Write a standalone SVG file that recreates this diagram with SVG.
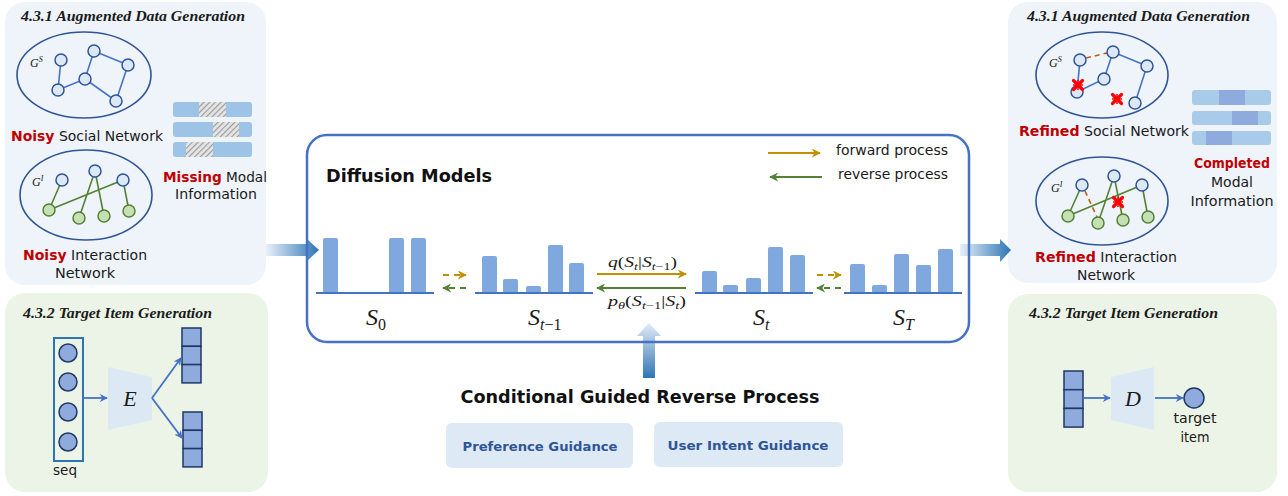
<svg xmlns="http://www.w3.org/2000/svg" xmlns:xlink="http://www.w3.org/1999/xlink" width="1288" height="496" viewBox="0 0 1288 496">
<defs>
<style>
.ttl{font-family:"Liberation Serif",serif;font-weight:bold;font-style:italic;font-size:15px;fill:#1a1a1a}
.cm{font-family:"DejaVu Sans","Open Sans",sans-serif;font-size:14px;fill:#1a1a1a}
.red{fill:#c00000;font-weight:bold}
.bold{font-weight:bold}
.math{font-family:"Liberation Serif",serif;font-style:italic;fill:#1a1a1a}
.up{font-style:normal}
.node{fill:#dde8f5;stroke:#2f5597;stroke-width:1.5}
.gnode{fill:#c5e0b4;stroke:#548235;stroke-width:1.5}
.be{stroke:#4472c4;stroke-width:1.6;fill:none}
.ge{stroke:#548235;stroke-width:1.6;fill:none}
.oe{stroke:#c55a11;stroke-width:1.6;fill:none;stroke-dasharray:5,4}
.ell{fill:none;stroke:#2f5597;stroke-width:1.6}
.bar{fill:#7fa8de}
.base{stroke:#4472c4;stroke-width:2}
.cell{fill:#8faadc;stroke:#1f3864;stroke-width:1.5}
.mbar{fill:#9dc3e6}
.cbar{fill:#a9cbea}
.cdark{fill:#8faadc}
.blue-arrow{stroke:#4472c4;stroke-width:1.8;fill:none}
.orange{stroke:#bf9000;stroke-width:2;fill:none}
.green{stroke:#548235;stroke-width:2;fill:none}
.trap{fill:#dce9f5}
.gbox{fill:#dde9f5}
.gtxt{font-family:"DejaVu Sans","Open Sans",sans-serif;font-weight:bold;font-size:13px;fill:#2f5597}
</style>
<pattern id="hatch" patternUnits="userSpaceOnUse" width="4" height="4" patternTransform="rotate(45)">
<rect width="4" height="4" fill="#e4e4e4"/>
<line x1="0" y1="0" x2="0" y2="4" stroke="#9a9a9a" stroke-width="2.2"/>
</pattern>
<linearGradient id="gh" x1="0" y1="0" x2="1" y2="0">
<stop offset="0" stop-color="#e8f0f9"/>
<stop offset="1" stop-color="#2e75b6"/>
</linearGradient>
<linearGradient id="gv" x1="0" y1="1" x2="0" y2="0">
<stop offset="0" stop-color="#2e75b6"/>
<stop offset="1" stop-color="#e3ecf7"/>
</linearGradient>
<marker id="mb" viewBox="0 0 10 10" refX="9" refY="5" markerWidth="8" markerHeight="8" markerUnits="userSpaceOnUse" orient="auto">
<path d="M0,0 L10,5 L0,10 L3,5 z" fill="#4472c4"/>
</marker>
<marker id="mo" viewBox="0 0 10 10" refX="9" refY="5" markerWidth="9" markerHeight="9" markerUnits="userSpaceOnUse" orient="auto">
<path d="M0,0 L10,5 L0,10 L3,5 z" fill="#bf9000"/>
</marker>
<marker id="mg" viewBox="0 0 10 10" refX="9" refY="5" markerWidth="9" markerHeight="9" markerUnits="userSpaceOnUse" orient="auto">
<path d="M0,0 L10,5 L0,10 L3,5 z" fill="#548235"/>
</marker>
<g id="xmark">
<path d="M-4.5,-4.5 L4.5,4.5 M-4.5,4.5 L4.5,-4.5" stroke="#ff0000" stroke-width="3.2" stroke-linecap="round"/>
<path d="M0,-5 L0,5 M-5,0 L5,0" stroke="#ff0000" stroke-width="1.5"/>
</g>
</defs>

<rect width="1288" height="496" fill="#ffffff"/>

<!-- Left top panel -->
<g id="left-augmented">
<rect x="5" y="2" width="261" height="283" rx="20" fill="#eef4fa"/>
<text class="ttl" x="21" y="21" textLength="224" lengthAdjust="spacingAndGlyphs">4.3.1 Augmented Data Generation</text>
<ellipse class="ell" cx="84" cy="75" rx="67" ry="43"/>
<path class="be" d="M61,60 L58,90 L85,79 L94,51 L128,65 L116,101 L85,79"/>
<circle class="node" cx="61" cy="60" r="6"/>
<circle class="node" cx="94" cy="51" r="6"/>
<circle class="node" cx="128" cy="65" r="6"/>
<circle class="node" cx="85" cy="79" r="6"/>
<circle class="node" cx="58" cy="90" r="6"/>
<circle class="node" cx="116" cy="101" r="6"/>
<text class="math" x="30" y="67" font-size="12">G<tspan font-size="8" dy="-5">S</tspan></text>
<text class="cm" x="11" y="141" textLength="152" lengthAdjust="spacingAndGlyphs"><tspan class="red">Noisy</tspan> Social Network</text>
<ellipse class="ell" cx="86" cy="195" rx="66" ry="45"/>
<path class="ge" d="M62,180 L49,210 M95,171 L79,218 M95,171 L104,216 M123,180 L129,211 M49,210 L123,180"/>
<circle class="node" cx="62" cy="180" r="6"/>
<circle class="node" cx="95" cy="171" r="6"/>
<circle class="node" cx="123" cy="180" r="6"/>
<circle class="gnode" cx="49" cy="210" r="6"/>
<circle class="gnode" cx="79" cy="218" r="6"/>
<circle class="gnode" cx="104" cy="216" r="6"/>
<circle class="gnode" cx="129" cy="211" r="6"/>
<text class="math" x="32" y="186" font-size="12">G<tspan font-size="8" dy="-5">I</tspan></text>
<text class="cm" x="23" y="260" textLength="124" lengthAdjust="spacingAndGlyphs"><tspan class="red">Noisy</tspan> Interaction</text>
<text class="cm" x="85" y="278" text-anchor="middle" textLength="60" lengthAdjust="spacingAndGlyphs">Network</text>
<rect class="mbar" x="173" y="102" width="79" height="15" rx="3"/>
<rect x="199" y="102" width="27" height="15" fill="url(#hatch)"/>
<rect class="mbar" x="173" y="122" width="79" height="15" rx="3"/>
<rect x="213" y="122" width="26" height="15" fill="url(#hatch)"/>
<rect class="mbar" x="173" y="142" width="79" height="15" rx="3"/>
<rect x="186" y="142" width="27" height="15" fill="url(#hatch)"/>
<text class="cm" x="163" y="182" textLength="104" lengthAdjust="spacingAndGlyphs"><tspan class="red">Missing</tspan> Modal</text>
<text class="cm" x="216" y="199" text-anchor="middle" textLength="82" lengthAdjust="spacingAndGlyphs">Information</text>
</g>

<!-- Left bottom panel -->
<g id="left-target">
<rect x="5" y="293" width="263" height="199" rx="20" fill="#ecf4e8"/>
<text class="ttl" x="23" y="318" textLength="189" lengthAdjust="spacingAndGlyphs">4.3.2 Target Item Generation</text>
<rect x="54" y="338" width="29" height="123" fill="none" stroke="#2e75b6" stroke-width="2"/>
<circle class="cell" cx="68" cy="353" r="9"/>
<circle class="cell" cx="68" cy="382" r="9"/>
<circle class="cell" cx="68" cy="412" r="9"/>
<circle class="cell" cx="68" cy="442" r="9"/>
<text class="cm" x="65" y="475" text-anchor="middle" textLength="24" lengthAdjust="spacingAndGlyphs">seq</text>
<polygon class="trap" points="108,367 152,377 152,420 108,430"/>
<text class="math" x="130" y="406" font-size="22" text-anchor="middle">E</text>
<rect class="cell" x="182" y="328" width="19" height="18.3"/>
<rect class="cell" x="182" y="346.3" width="19" height="18.3"/>
<rect class="cell" x="182" y="364.6" width="19" height="18.3"/>
<rect class="cell" x="183" y="412" width="19" height="18.3"/>
<rect class="cell" x="183" y="430.3" width="19" height="18.3"/>
<rect class="cell" x="183" y="448.6" width="19" height="18.3"/>
</g>

<!-- Center diffusion model box -->
<g id="diffusion">
<rect x="307" y="135" width="662" height="207" rx="20" fill="#ffffff"/>
<text x="326" y="182" font-family="DejaVu Sans, Open Sans, sans-serif" font-weight="bold" font-size="18" fill="#111" textLength="166" lengthAdjust="spacingAndGlyphs">Diffusion Models</text>
<line class="orange" x1="768" y1="153" x2="820" y2="153" marker-end="url(#mo)"/>
<text class="cm" x="836" y="155" font-size="13" textLength="112" lengthAdjust="spacingAndGlyphs">forward process</text>
<line class="green" x1="822" y1="177" x2="770" y2="177" marker-end="url(#mg)"/>
<text class="cm" x="838" y="179" font-size="13" textLength="110" lengthAdjust="spacingAndGlyphs">reverse process</text>
</g>

<g id="state-s0">
<rect class="bar" x="323" y="238" width="15" height="55" rx="2"/>
<rect class="bar" x="389" y="238" width="15" height="55" rx="2"/>
<rect class="bar" x="411" y="238" width="15" height="55" rx="2"/>
<line class="base" x1="316" y1="293" x2="434" y2="293"/>
<text class="math" x="366" y="325" font-size="24">S<tspan class="up" font-size="16" dy="5">0</tspan></text>
</g>
<g id="state-st1">
<rect class="bar" x="482" y="256" width="15" height="37" rx="2"/>
<rect class="bar" x="503" y="279" width="15" height="14" rx="2"/>
<rect class="bar" x="526" y="286" width="15" height="7" rx="2"/>
<rect class="bar" x="548" y="245" width="15" height="48" rx="2"/>
<rect class="bar" x="569" y="263" width="15" height="30" rx="2"/>
<line class="base" x1="475" y1="293" x2="593" y2="293"/>
<text class="math" x="528" y="325" font-size="24">S<tspan font-size="16" dy="5">t</tspan><tspan class="up" font-size="16">−1</tspan></text>
</g>
<g id="state-st">
<rect class="bar" x="702" y="271" width="15" height="22" rx="2"/>
<rect class="bar" x="723" y="285" width="15" height="8" rx="2"/>
<rect class="bar" x="746" y="278" width="15" height="15" rx="2"/>
<rect class="bar" x="768" y="247" width="15" height="46" rx="2"/>
<rect class="bar" x="790" y="255" width="15" height="38" rx="2"/>
<line class="base" x1="695" y1="293" x2="813" y2="293"/>
<text class="math" x="753" y="325" font-size="24">S<tspan font-size="16" dy="5">t</tspan></text>
</g>
<g id="state-sT">
<rect class="bar" x="850" y="264" width="15" height="29" rx="2"/>
<rect class="bar" x="872" y="285" width="15" height="8" rx="2"/>
<rect class="bar" x="894" y="254" width="15" height="39" rx="2"/>
<rect class="bar" x="916" y="265" width="15" height="28" rx="2"/>
<rect class="bar" x="938" y="249" width="15" height="44" rx="2"/>
<line class="base" x1="844" y1="293" x2="962" y2="293"/>
<text class="math" x="893" y="325" font-size="24">S<tspan font-size="16" dy="5">T</tspan></text>
</g>

<g id="transition-labels">
<text class="math" x="608" y="267" font-size="14" textLength="69" lengthAdjust="spacingAndGlyphs">q<tspan class="up">(</tspan>S<tspan font-size="10" dy="3">t</tspan><tspan class="up" dy="-3">|</tspan>S<tspan font-size="10" dy="3">t</tspan><tspan class="up" font-size="10">−1</tspan><tspan class="up" dy="-3">)</tspan></text>
<text class="math" x="608" y="306" font-size="14" textLength="78" lengthAdjust="spacingAndGlyphs">p<tspan font-size="10" dy="3">θ</tspan><tspan class="up" dy="-3">(</tspan>S<tspan font-size="10" dy="3">t</tspan><tspan class="up" font-size="10">−1</tspan><tspan class="up" dy="-3">|</tspan>S<tspan font-size="10" dy="3">t</tspan><tspan class="up" dy="-3">)</tspan></text>
</g>

<!-- Guidance -->
<g id="guidance">
<text x="640" y="403" text-anchor="middle" font-family="DejaVu Sans, Open Sans, sans-serif" font-weight="bold" font-size="18" fill="#111" textLength="359" lengthAdjust="spacingAndGlyphs">Conditional Guided Reverse Process</text>
</g>
<g id="preference-guidance">
<rect class="gbox" x="446" y="423" width="187" height="45" rx="6"/>
<text class="gtxt" x="540" y="451" text-anchor="middle" textLength="155" lengthAdjust="spacingAndGlyphs">Preference Guidance</text>
</g>
<g id="user-intent-guidance">
<rect class="gbox" x="654" y="422" width="189" height="45" rx="6"/>
<text class="gtxt" x="748" y="450" text-anchor="middle" textLength="161" lengthAdjust="spacingAndGlyphs">User Intent Guidance</text>
</g>

<!-- Right top panel -->
<g id="right-augmented">
<rect x="1008" y="2" width="269" height="281" rx="20" fill="#eef4fa"/>
<text class="ttl" x="1027" y="21" textLength="223" lengthAdjust="spacingAndGlyphs">4.3.1 Augmented Data Generation</text>
<ellipse class="ell" cx="1102" cy="75" rx="66" ry="43"/>
<path class="be" d="M1080,60 L1077,92 L1104,79 L1113,52 L1147,66 L1135,103"/>
<line class="oe" x1="1086" y1="58" x2="1107" y2="53"/>
<circle class="node" cx="1080" cy="60" r="6"/>
<circle class="node" cx="1113" cy="52" r="6"/>
<circle class="node" cx="1147" cy="66" r="6"/>
<circle class="node" cx="1104" cy="79" r="6"/>
<circle class="node" cx="1077" cy="92" r="6"/>
<circle class="node" cx="1135" cy="103" r="6"/>
<use href="#xmark" x="1078" y="85"/>
<use href="#xmark" x="1117" y="99"/>
<text class="math" x="1049" y="67" font-size="12">G<tspan font-size="8" dy="-5">S</tspan></text>
<text class="cm" x="1019" y="136" textLength="170" lengthAdjust="spacingAndGlyphs"><tspan class="red">Refined</tspan> Social Network</text>
<ellipse class="ell" cx="1102" cy="201" rx="66" ry="44"/>
<path class="ge" d="M1082,185 L1068,216 M1114,176 L1098,223 M1114,176 L1123,220 M1142,185 L1148,217 M1068,216 L1142,185"/>
<line class="oe" x1="1085" y1="191" x2="1097" y2="217"/>
<circle class="node" cx="1082" cy="185" r="6"/>
<circle class="node" cx="1114" cy="176" r="6"/>
<circle class="node" cx="1142" cy="185" r="6"/>
<circle class="gnode" cx="1068" cy="216" r="6"/>
<circle class="gnode" cx="1098" cy="223" r="6"/>
<circle class="gnode" cx="1123" cy="220" r="6"/>
<circle class="gnode" cx="1148" cy="217" r="6"/>
<use href="#xmark" x="1118" y="202"/>
<text class="math" x="1051" y="192" font-size="12">G<tspan font-size="8" dy="-5">I</tspan></text>
<text class="cm" x="1035" y="262" textLength="142" lengthAdjust="spacingAndGlyphs"><tspan class="red">Refined</tspan> Interaction</text>
<text class="cm" x="1106" y="280" text-anchor="middle" textLength="58" lengthAdjust="spacingAndGlyphs">Network</text>
<rect class="cbar" x="1192" y="90" width="79" height="15" rx="3"/>
<rect class="cdark" x="1219" y="90" width="26" height="15"/>
<rect class="cbar" x="1192" y="111" width="79" height="14" rx="3"/>
<rect class="cdark" x="1232" y="111" width="26" height="14"/>
<rect class="cbar" x="1192" y="131" width="79" height="14" rx="3"/>
<rect class="cdark" x="1206" y="131" width="26" height="14"/>
<text class="cm red" x="1232" y="168" text-anchor="middle" textLength="76" lengthAdjust="spacingAndGlyphs">Completed</text>
<text class="cm" x="1232" y="187" text-anchor="middle" textLength="42" lengthAdjust="spacingAndGlyphs">Modal</text>
<text class="cm" x="1232" y="206" text-anchor="middle" textLength="83" lengthAdjust="spacingAndGlyphs">Information</text>
</g>

<!-- Right bottom panel -->
<g id="right-target">
<rect x="1008" y="294" width="269" height="198" rx="20" fill="#ecf4e8"/>
<text class="ttl" x="1029" y="318" textLength="189" lengthAdjust="spacingAndGlyphs">4.3.2 Target Item Generation</text>
<rect class="cell" x="1064" y="371" width="19" height="18.7"/>
<rect class="cell" x="1064" y="389.7" width="19" height="18.7"/>
<rect class="cell" x="1064" y="408.4" width="19" height="18.7"/>
<polygon class="trap" points="1111,377 1154,367 1154,430 1111,420"/>
<text class="math" x="1133" y="406" font-size="22" text-anchor="middle">D</text>
<circle class="cell" cx="1194" cy="398" r="10"/>
<text class="cm" x="1195" y="423" text-anchor="middle" textLength="43" lengthAdjust="spacingAndGlyphs">target</text>
<text class="cm" x="1195" y="442" text-anchor="middle" textLength="29" lengthAdjust="spacingAndGlyphs">item</text>
</g>

<!-- Connectors -->
<g id="connectors">
<line class="blue-arrow" x1="83" y1="398" x2="107" y2="398" marker-end="url(#mb)"/>
<line class="blue-arrow" x1="152" y1="398" x2="181" y2="358" marker-end="url(#mb)"/>
<line class="blue-arrow" x1="152" y1="398" x2="182" y2="438" marker-end="url(#mb)"/>
<line class="blue-arrow" x1="1083" y1="398" x2="1110" y2="398" marker-end="url(#mb)"/>
<line class="blue-arrow" x1="1155" y1="398" x2="1183" y2="398" marker-end="url(#mb)"/>
<line class="orange" x1="443" y1="275" x2="466" y2="275" stroke-dasharray="6,5" marker-end="url(#mo)"/>
<line class="green" x1="466" y1="288" x2="443" y2="288" stroke-dasharray="6,5" marker-end="url(#mg)"/>
<line class="orange" x1="817" y1="275" x2="841" y2="275" stroke-dasharray="6,5" marker-end="url(#mo)"/>
<line class="green" x1="841" y1="288" x2="817" y2="288" stroke-dasharray="6,5" marker-end="url(#mg)"/>
<line class="orange" x1="597" y1="274" x2="686" y2="274" marker-end="url(#mo)"/>
<line class="green" x1="686" y1="288" x2="597" y2="288" marker-end="url(#mg)"/>
<path d="M266,244 L307,244 L307,239 L319,250 L307,261 L307,256 L266,256 Z" fill="url(#gh)"/>
<path d="M960,244 L1000,244 L1000,239 L1011,250 L1000,262 L1000,256 L960,256 Z" fill="url(#gh)"/>
<path d="M643,378 L643,336 L637,336 L649,323 L661,336 L655,336 L655,378 Z" fill="url(#gv)"/>
<rect x="307" y="135" width="662" height="207" rx="20" fill="none" stroke="#4472c4" stroke-width="2.5"/>
</g>
</svg>
